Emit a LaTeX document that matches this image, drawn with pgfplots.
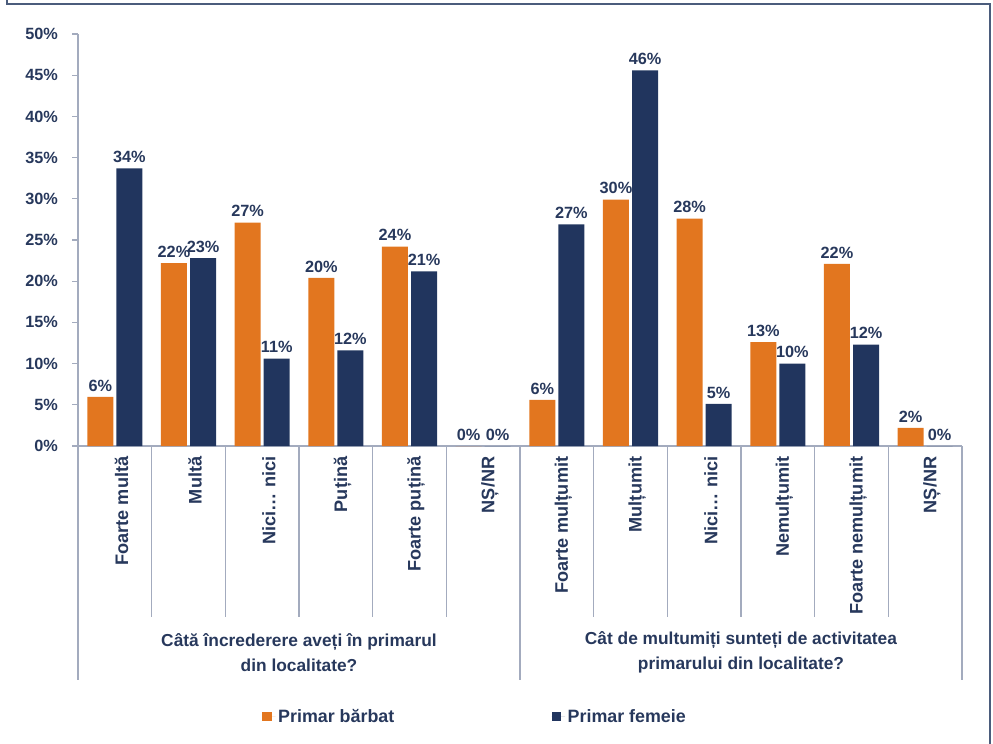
\documentclass[border=0pt]{standalone}
\usepackage{pgfplots}
\pgfplotsset{compat=1.18}
\usepackage{fontspec}
\setmainfont{Liberation Sans}
\definecolor{cOr}{HTML}{E2761F}
\definecolor{cNv}{HTML}{21355E}
\definecolor{cTx}{HTML}{27385C}
\definecolor{cAx}{HTML}{A3ABBE}
\definecolor{cFr}{HTML}{4B5C7C}
\begin{document}
\begin{tikzpicture}[x=1pt,y=1pt]
\useasboundingbox (-58.5,-222.75) rectangle (686.25,334.5);
\draw[cFr, line width=1.1pt] (-53.25,400) -- (-53.25,331.5) -- (684.0,331.5) -- (684.0,-300);
\begin{axis}[
  at={(0,0)}, anchor=south west,
  scale only axis, width=663pt, height=309pt,
  ybar, bar width=19.5pt,
  xmin=-0.5, xmax=11.5, ymin=0, ymax=50,
  xtick={0,...,11},
  xticklabels={Foarte multă,Multă,Nici\dots\ nici,Puțină,Foarte puțină,NȘ/NR,Foarte mulțumit,Mulțumit,Nici\dots\ nici,Nemulțumit,Foarte nemulțumit,NȘ/NR},
  xticklabel style={rotate=90, anchor=east, font=\bfseries\fontsize{13.6}{15}\selectfont, text=cTx, yshift=-5pt},
  major x tick style={draw=none},
  ytick={0,5,...,50},
  yticklabel={\pgfmathprintnumber{\tick}\%},
  yticklabel style={font=\bfseries\fontsize{12.2}{14}\selectfont, text=cTx, xshift=-7pt},
  /pgf/number format/assume math mode=true,
  tick align=outside, major tick length=4.5pt,
  ytick style={cAx, line width=0.8pt},
  axis x line*=bottom, axis y line*=left,
  x axis line style={cAx, line width=0.8pt, -},
  y axis line style={cAx, line width=0.8pt, -},
  nodes near coords={\pgfmathprintnumber[fixed,precision=0]{\pgfplotspointmeta}\%},
  every node near coord/.append style={font=\bfseries\fontsize{12.2}{14}\selectfont, text=cTx, inner sep=4pt},
  legend style={at={(0.4495,-0.657)}, anchor=center, draw=none, fill=none,
    legend columns=2, font=\bfseries\fontsize{13.4}{15}\selectfont, text=cTx,
    /tikz/every even column/.append style={column sep=116pt}},
  legend image code/.code={\fill[#1] (0pt,-3.5pt) rectangle (7pt,3.5pt); \path (0pt,0pt) -- (10pt,0pt);},
  clip=false,
]
\addplot[fill=cOr, draw=none, bar shift=-10.9pt] coordinates {
 (0,5.95) (1,22.2) (2,27.1) (3,20.4) (4,24.2) (5,0)
 (6,5.6) (7,29.9) (8,27.6) (9,12.6) (10,22.1) (11,2.2)};
\addlegendentry{Primar bărbat}
\addplot[fill=cNv, draw=none, bar shift=10.9pt] coordinates {
 (0,33.7) (1,22.8) (2,10.6) (3,11.6) (4,21.2) (5,0)
 (6,26.9) (7,45.6) (8,5.1) (9,10.0) (10,12.3) (11,0)};
\addlegendentry{Primar femeie}
\foreach \xx in {0.5,1.5,2.5,3.5,4.5,6.5,7.5,8.5,9.5,10.5}{
  \edef\tmp{\noexpand\draw[cAx, line width=0.8pt] (axis cs:\xx,0) -- ([yshift=-128.5pt]axis cs:\xx,0);}\tmp
}
\foreach \xx in {-0.5,5.5,11.5}{
  \edef\tmp{\noexpand\draw[cAx, line width=0.8pt] (axis cs:\xx,0) -- ([yshift=-175.5pt]axis cs:\xx,0);}\tmp
}
\node[align=center, text=cTx, font=\bfseries\fontsize{13}{18.75}\selectfont] at (axis cs:2.5,0) [yshift=-155pt] {Câtă încrederere aveți în primarul\\din localitate?};
\node[align=center, text=cTx, font=\bfseries\fontsize{13}{18.75}\selectfont] at (axis cs:8.5,0) [yshift=-155pt] {Cât de multumiți sunteți de activitatea\\primarului din localitate?};
\end{axis}
\end{tikzpicture}
\end{document}
